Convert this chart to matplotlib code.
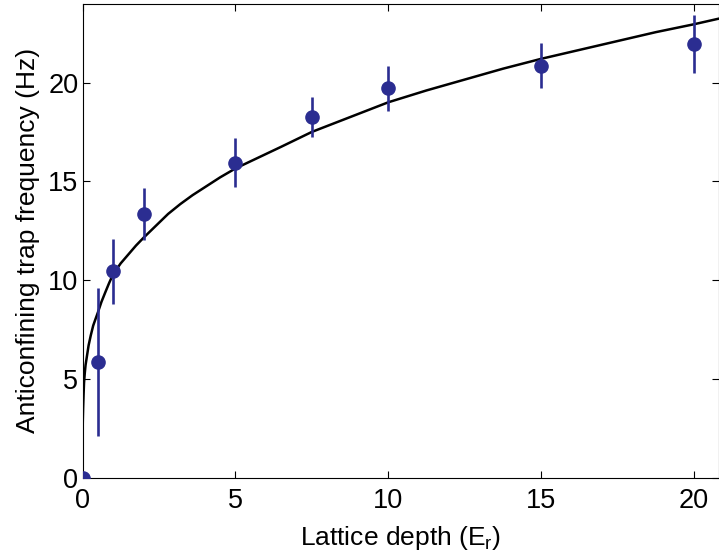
import matplotlib
matplotlib.use("Agg")
import matplotlib.pyplot as plt

plt.rcParams['font.family'] = ['Liberation Sans', 'DejaVu Sans']
plt.rcParams['mathtext.fontset'] = 'custom'
plt.rcParams['mathtext.rm'] = 'Liberation Sans'
plt.rcParams['mathtext.it'] = 'Liberation Sans'

# measured data
depth = [0, 0.5, 1, 2, 5, 7.5, 10, 15, 20]
freq = [0, 5.87, 10.45, 13.35, 15.95, 18.25, 19.7, 20.85, 21.95]
freq_err = [0, 3.75, 1.65, 1.3, 1.25, 1.0, 1.15, 1.15, 1.45]

# theory curve
curve_x = [0, 0.002, 0.005, 0.01, 0.02, 0.035, 0.05, 0.075, 0.1, 0.15, 0.2, 0.27,
           0.35, 0.43, 0.5, 0.62, 0.75, 0.87, 1.0, 1.25, 1.5, 1.75, 2.0, 2.4, 2.8,
           3.2, 3.6, 4.0, 4.5, 5.0, 5.75, 6.5, 7.5, 8.75, 10.0, 11.25, 12.5, 13.75,
           15.0, 16.25, 17.5, 18.75, 20.0, 21.0]
curve_y = [0, 1.8, 2.4, 2.9, 3.5, 4.2, 4.8, 5.3, 5.7, 6.2, 6.7, 7.2,
           7.7, 8.05, 8.35, 8.9, 9.4, 9.85, 10.3, 10.85, 11.3, 11.75, 12.15, 12.75, 13.35,
           13.85, 14.3, 14.7, 15.2, 15.65, 16.2, 16.75, 17.5, 18.25, 19.0, 19.6, 20.15, 20.7,
           21.2, 21.65, 22.1, 22.55, 22.95, 23.3]

xticks = [0, 5, 10, 15, 20]
yticks = [0, 5, 10, 15, 20]

fig = plt.figure(figsize=(7.19, 5.52), dpi=100)
ax = fig.add_axes([82.5 / 719, 74.3 / 552, (718.5 - 82.5) / 719, (477.7 - 3.5) / 552])

ax.plot(curve_x, curve_y, color='black', lw=1.8, zorder=2, solid_joinstyle='round')
ax.errorbar(depth, freq, yerr=freq_err, fmt='o', color='#2B2D91', ecolor='#2B2D91',
            markersize=9.5, elinewidth=1.9, capsize=0, zorder=3)

ax.set_xlim(0, 20.8)
ax.set_ylim(0, 24)
ax.set_xticks(xticks)
ax.set_yticks(yticks)
ax.tick_params(direction='in', length=5, width=0.8, top=True, right=True,
               labelsize=19.5, pad=3)
ax.tick_params(axis='x', pad=7.5)
for s in ax.spines.values():
    s.set_linewidth(0.8)

ax.set_xlabel('Lattice depth (E$_\\mathrm{r}$)', fontsize=19, labelpad=7)
ax.set_ylabel('Anticonfining trap frequency (Hz)', fontsize=19, labelpad=6)

fig.savefig('out.png', dpi=100)
